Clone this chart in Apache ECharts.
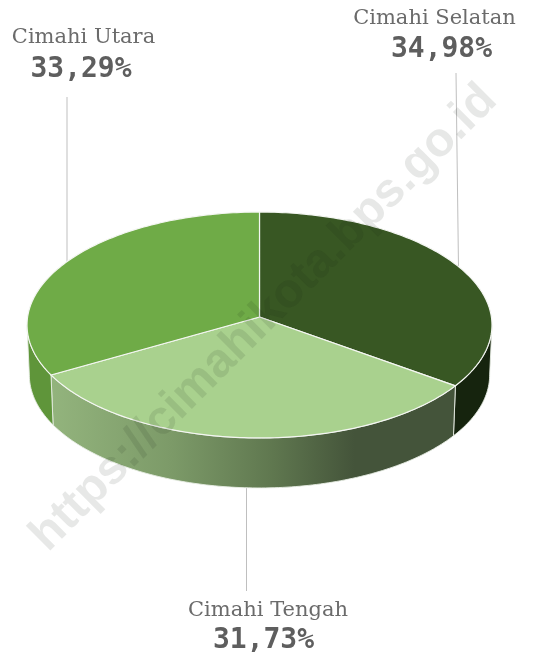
<!DOCTYPE html>
<html>
<head>
<meta charset="utf-8">
<style>html,body{margin:0;padding:0;background:#fff}#c{width:534px;height:658px}</style>
<script src="https://cdn.jsdelivr.net/npm/echarts@6/dist/echarts.min.js"></script>
</head>
<body>
<div id="c"></div>
<script>
// ---- data
var categories = ['Cimahi Selatan', 'Cimahi Tengah', 'Cimahi Utara'];
var shares = [34.98, 31.73, 33.29];
var watermark = 'https://cimahikota.bps.go.id';

// ---- styles and layout
var topColors = ['#385723', '#A9D18E', '#6FAB47'];
var wallColors = [
  '#16240E',
  {type: 'linear', x: 0, y: 0, x2: 1, y2: 0, colorStops: [
    {offset: 0, color: '#93B47D'},
    {offset: 0.30, color: '#7C9A68'},
    {offset: 0.55, color: '#5F774F'},
    {offset: 0.75, color: '#44543A'},
    {offset: 1, color: '#44543A'}
  ]},
  '#5F953A'
];
var labelLayout = [
  {nameX: 434.5, nameY: 19, valueX: 441.5, valueY: 50, line: [[456, 73], [458.5, 268]]},
  {nameX: 268, nameY: 611, valueX: 263.5, valueY: 641, line: [[246.5, 488], [246.5, 591]]},
  {nameX: 83.5, nameY: 38, valueX: 81, valueY: 70, line: [[67, 97], [67, 264]]}
];
var disc = {cx: 259.5, cy: 317, fx: 231.9, fy: 112.4, persp: -0.0708, depth: 50, baseScale: 0.99};
var visibleFrom = 94, visibleTo = 266;

// perspective projection of a disc angle (degrees clockwise from top) to canvas units
function project(deg, lower) {
  var t = deg * Math.PI / 180, x = Math.sin(t), y = -Math.cos(t);
  var w = 1 + disc.persp * y;
  return [
    disc.cx + (lower ? disc.baseScale : 1) * disc.fx * x / w,
    disc.cy + disc.fy * y / w + (lower ? disc.depth : 0)
  ];
}
function arc(from, to, lower) {
  var pts = [], n = Math.max(2, Math.ceil(Math.abs(to - from)));
  for (var i = 0; i <= n; i++) pts.push(project(from + (to - from) * i / n, lower));
  return pts;
}
function sliceRange(i) {
  var total = shares.reduce(function (a, b) { return a + b; }, 0), before = 0;
  for (var k = 0; k < i; k++) before += shares[k];
  return [before / total * 360, (before + shares[i]) / total * 360];
}
var seriesData = categories.map(function (name, i) { return {name: name, value: [i, shares[i]]}; });

function renderWall(params, api) {
  var i = api.value(0), r = sliceRange(i), L = labelLayout[i];
  var a = Math.max(r[0], visibleFrom), b = Math.min(r[1], visibleTo);
  var pts = arc(a, b, false).concat(arc(b, a, true)).map(function (p) { return api.coord(p); });
  return {type: 'group', children: [
    {type: 'polyline', shape: {points: L.line.map(function (p) { return api.coord(p); })},
      style: {stroke: '#BFBFBF', lineWidth: 1, fill: null}},
    {type: 'polygon', shape: {points: pts},
      style: {fill: wallColors[i], stroke: '#E8EDE4', lineWidth: 0.9}}
  ]};
}
function renderTop(params, api) {
  var i = api.value(0), r = sliceRange(i);
  var pts = [[disc.cx, disc.cy]].concat(arc(r[0], r[1], false)).map(function (p) { return api.coord(p); });
  return {type: 'polygon', shape: {points: pts},
    style: {fill: topColors[i], stroke: '#F4F6F2', lineWidth: 1.2, lineJoin: 'round'}};
}
function renderLabel(params, api) {
  var i = api.value(0), L = labelLayout[i];
  var n = api.coord([L.nameX, L.nameY]), v = api.coord([L.valueX, L.valueY]);
  return {type: 'group', children: [
    {type: 'text', x: n[0], y: n[1], style: {text: categories[i], fill: '#6B6B6B',
      font: '21px "DejaVu Serif"', align: 'center', verticalAlign: 'middle'}},
    {type: 'text', x: v[0], y: v[1], style: {text: api.value(1).toFixed(2).replace('.', ',') + '%',
      fill: '#5E5E5E', font: 'bold 28px "DejaVu Sans Mono"', align: 'center', verticalAlign: 'middle'}}
  ]};
}
function custom(render, z) {
  return {type: 'custom', coordinateSystem: 'cartesian2d', renderItem: render, data: seriesData,
    encode: {x: 0, y: 1}, clip: false, silent: true, z: z, animation: false};
}
var chart = echarts.init(document.getElementById('c'), null, {renderer: 'canvas'});
chart.setOption({
  animation: false,
  backgroundColor: '#fff',
  grid: {left: 0, right: 0, top: 0, bottom: 0},
  xAxis: {type: 'value', min: 0, max: 534, show: false},
  yAxis: {type: 'value', min: 0, max: 658, inverse: true, show: false},
  series: [custom(renderWall, 2), custom(renderTop, 3), custom(renderLabel, 4)],
  graphic: [{
    type: 'text', x: 264, y: 318, rotation: Math.PI / 4, z: 10, silent: true,
    style: {text: watermark, fill: 'rgba(20,30,20,0.10)', font: 'bold 48px "Liberation Sans"',
      align: 'center', verticalAlign: 'middle'}
  }]
});
</script>
</body>
</html>
